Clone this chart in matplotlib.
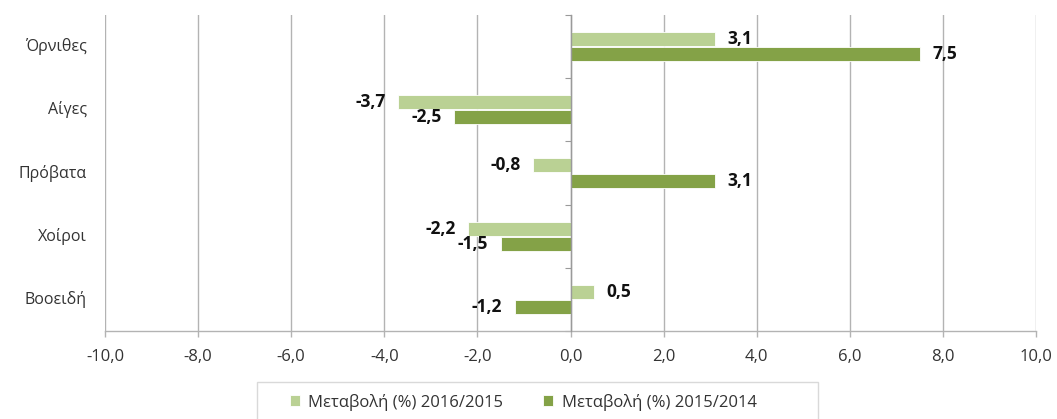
import matplotlib
matplotlib.use("Agg")
import matplotlib.pyplot as plt
import matplotlib.transforms as mtransforms
from matplotlib.patches import Rectangle
import numpy as np

categories = ["Όρνιθες", "Αίγες", "Πρόβατα", "Χοίροι", "Βοοειδή"]
series_names = ["Μεταβολή (%) 2016/2015", "Μεταβολή (%) 2015/2014"]
vals_2016_2015 = [3.1, -3.7, -0.8, -2.2, 0.5]
vals_2015_2014 = [7.5, -2.5, 3.1, -1.5, -1.2]
xticks = [-10, -8, -6, -4, -2, 0, 2, 4, 6, 8, 10]

light = "#bad194"
dark = "#84a247"
gridc = "#b3b3b3"

plt.rcParams['font.family'] = ['Open Sans', 'DejaVu Sans']

W, H = 1057, 419
fig = plt.figure(figsize=(W / 100, H / 100), dpi=100)
ax = fig.add_axes([105 / W, (H - 331) / H, (1036 - 105) / W, (331 - 15) / H])

y = np.arange(len(categories))
h = 0.22
gap = 0.02
y1 = y - (h / 2 + gap / 2)
y2 = y + (h / 2 + gap / 2)

b1 = ax.barh(y1, vals_2016_2015, height=h, color=light, edgecolor="white", linewidth=0.6,
             label=series_names[0], zorder=3)
b2 = ax.barh(y2, vals_2015_2014, height=h, color=dark, edgecolor="white", linewidth=0.6,
             label=series_names[1], zorder=3)

def fmt(v):
    return f"{v:.1f}".replace(".", ",")

for bars, vals in ((b1, vals_2016_2015), (b2, vals_2015_2014)):
    for rect, v in zip(bars, vals):
        yc = rect.get_y() + rect.get_height() / 2
        if v >= 0:
            ax.annotate(fmt(v), (v, yc), xytext=(9, 0), textcoords="offset points",
                        ha="left", va="center", fontsize=12.5, fontweight="bold",
                        color="#111111", zorder=4)
        else:
            ax.annotate(fmt(v), (v, yc), xytext=(-9, 0), textcoords="offset points",
                        ha="right", va="center", fontsize=12.5, fontweight="bold",
                        color="#111111", zorder=4)

ax.set_xlim(-10, 10)
ax.set_ylim(len(categories) - 0.5, -0.5)
ax.set_xticks(xticks)
ax.set_xticklabels([fmt(t) for t in xticks], fontsize=12, color="#333333")
ax.tick_params(axis="x", length=4, color=gridc, width=1.0, pad=9)
ax.grid(axis="x", color=gridc, linewidth=1.0, zorder=0)
ax.set_axisbelow(True)

for s in ("top", "right"):
    ax.spines[s].set_visible(False)
ax.spines["bottom"].set_color(gridc)
ax.spines["bottom"].set_linewidth(1.0)
ax.spines["left"].set_position(("data", 0))
ax.spines["left"].set_color("#9a9a9a")
ax.spines["left"].set_linewidth(1.0)
ax.spines["left"].set_zorder(5)
ax.set_yticks(np.arange(len(categories) + 1) - 0.5)
ax.set_yticklabels([])
ax.tick_params(axis="y", length=4, color="#9a9a9a", direction="out")

trans = mtransforms.blended_transform_factory(ax.transAxes, ax.transData)
for yi, c in zip(y, categories):
    ax.text(-18 / 931, yi, c, transform=trans, ha="right", va="center", fontsize=11.5, color="#333333")

# legend frame and entries
fig.patches.append(Rectangle((257 / W, -0.02), (818 - 257) / W, (H - 382) / H + 0.02,
                             transform=fig.transFigure, facecolor="white",
                             edgecolor="#d9d9d9", linewidth=1.0, zorder=0))
leg = fig.legend(handles=[b1, b2], labels=series_names, loc="center left",
                 bbox_to_anchor=(290 / W, (H - 402) / H),
                 ncol=2, frameon=False, fontsize=12, handlelength=0.6, handleheight=0.6,
                 columnspacing=2.4, handletextpad=0.5, borderpad=0.0, borderaxespad=0.0)
for t in leg.get_texts():
    t.set_color("#333333")

fig.savefig("out.png", dpi=100)
